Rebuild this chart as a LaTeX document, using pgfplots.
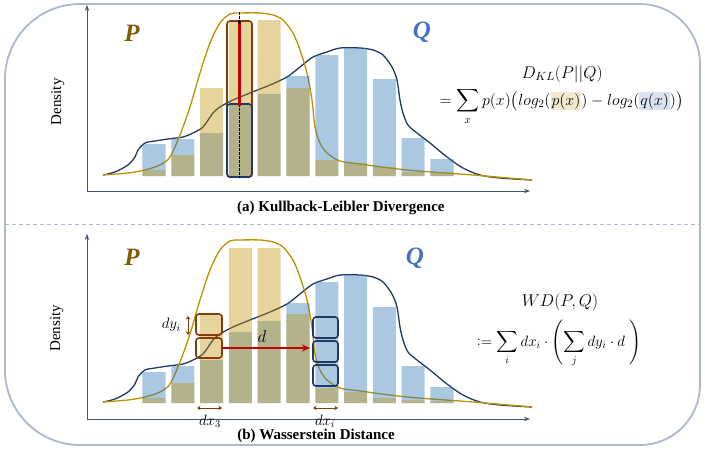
\documentclass[border=0pt]{standalone}
\usepackage{fix-cm}
\DeclareFontFamily{OMX}{cmex}{}
\DeclareFontShape{OMX}{cmex}{m}{n}{<->cmex10}{}
\usepackage{fontspec}
\setmainfont{Liberation Serif}
\usepackage{pgfplots}
\pgfplotsset{compat=1.18}
\usepackage{pgfplotstable}
\usetikzlibrary{arrows.meta}

\definecolor{pcol}{HTML}{BF9000}
\definecolor{qcol}{HTML}{2E75B6}
\definecolor{navyc}{HTML}{203864}
\definecolor{brownc}{HTML}{843C0C}
\definecolor{redc}{HTML}{C00000}
\definecolor{axisc}{HTML}{44546A}
\definecolor{framec}{HTML}{ACB9CA}
\definecolor{plab}{HTML}{7F6000}
\definecolor{qlab}{HTML}{4472C4}
\definecolor{hlp}{HTML}{F2E8CE}
\definecolor{hlq}{HTML}{D9E3F1}

\newcommand{\hlp}[1]{{\setlength{\fboxsep}{1pt}\colorbox{hlp}{#1}}}
\newcommand{\hlq}[1]{{\setlength{\fboxsep}{1pt}\colorbox{hlq}{#1}}}
\newcommand{\fs}[1]{\fontsize{#1}{#1}\selectfont}

% histogram bars: x, Q, P
\pgfplotstableread{
x  q   p
1  32  6
2  37  21
3  43  88
4  71  154
5  82  156
6  100 88
7  121 16
8  128 13
9  97  9
10 38  4
11 17  4
}\topbars
\pgfplotstableread{
x  q   p
1  31  5
2  37  20
3  43  88
4  71  155
5  82  155
6  100 89
7  121 15
8  128 11
9  96  5
10 37  3
11 16  2
}\botbars
% density curves
\pgfplotstableread{
x      y
-0.771 1
-0.354 4
0.097  11
0.340  19
0.444  26
0.688  33
1.035  35
1.486  37
2.007  39
2.354  43
2.701  49
3.049  63
3.292  69
3.743  76
4.333  83
5.028  91
5.618  99
6.069  109
6.521  119
7.007  124
7.458  128
8.153  128
8.604  126
8.951  121
9.264  109
9.438  96
9.542  76
9.646  63
9.819  51
10.132 43
10.583 33
11.174 19
11.729 8
12.319 1
13.014 -2
14.125 -4
}\qcurve
\pgfplotstableread{
x      y
-0.771 1
0.097  3
0.688  6
1.208  11
1.556  19
1.903  41
2.250  69
2.597  103
2.944  133
3.292  153
3.639  162
3.986  163
4.681  163
5.132  161
5.479  156
5.826  143
6.069  126
6.313  103
6.486  76
6.590  49
6.764  33
7.007  23
7.458  15
8.153  12
9.785  6
12.076 1
14.125 -4
}\pcurve

\pgfplotsset{
  panel/.style={
    scale only axis, width=443pt,
    xmin=-1.326, xmax=14.056,
    axis lines=left,
    axis line style={draw=axisc, line width=0.9pt, -{Stealth[length=6pt,width=4.5pt]}},
    xtick=\empty, ytick=\empty, clip=false,
    ylabel={Density},
    ylabel style={anchor=center, font=\fs{15}},
    xlabel style={anchor=center, font=\fs{15}\bfseries},
  },
  qbar/.style={ybar, bar width=0.8, bar shift=0pt, fill=qcol, fill opacity=0.4, draw=none},
  pbar/.style={ybar, bar width=0.8, bar shift=0pt, fill=pcol, fill opacity=0.39, draw=none},
  qline/.style={navyc, line width=1.3pt, smooth, tension=0.5, no markers},
  pline/.style={pcol, line width=1.3pt, smooth, tension=0.5, no markers},
}
\tikzset{
  bigP/.style={font=\fs{25}\bfseries\itshape, text=plab},
  bigQ/.style={font=\fs{25}\bfseries\itshape, text=qlab},
  dbl/.style={brownc, line width=1pt, {Stealth[length=3.5pt,width=4.5pt]}-{Stealth[length=3.5pt,width=4.5pt]}},
}

\begin{document}
\begin{tikzpicture}
\useasboundingbox (0pt,0pt) rectangle (705pt,-450pt);

% outer frame and separator
\draw[framec, line width=1.8pt] (80pt,-4pt) -- (640pt,-4pt)
  arc[start angle=90, end angle=0, radius=60pt] -- (700pt,-385pt)
  arc[start angle=0, end angle=-90, radius=60pt] -- (80pt,-445pt)
  arc[start angle=270, end angle=180, radius=75pt] -- (5pt,-79pt)
  arc[start angle=180, end angle=90, radius=75pt] -- cycle;
\draw[framec, line width=0.9pt, dash pattern=on 4pt off 3pt] (5pt,-224pt) -- (700pt,-224pt);

% (a) Kullback-Leibler
\begin{axis}[panel, at={(87pt,-191pt)}, anchor=south west,
  height=186pt, ymin=-15, ymax=171,
  ylabel style={at={(axis description cs:-0.066,0.48)}},
  xlabel={(a) Kullback-Leibler Divergence},
  xlabel style={at={(axis description cs:0.573,-0.091)}}]
\addplot[qline] table {\qcurve};
\addplot[pline] table {\pcurve};
\addplot[qbar] table[x=x, y=q] {\topbars};
\addplot[pbar] table[x=x, y=p] {\topbars};
\draw[brownc, line width=1.6pt, rounded corners=3pt] (3.535,-1) rectangle (4.403,155);
\draw[navyc, line width=1.6pt, rounded corners=3pt] (3.535,-1) rectangle (4.403,72);
\draw[black, line width=0.8pt, dash pattern=on 2.5pt off 1.5pt] (3.969,164) -- (3.969,-2);
\draw[redc, line width=2.4pt] (3.969,154) -- (3.969,70);
\fill[black] (3.969,154) circle (1.9pt);
\node[bigP] at (0.236,143) {P};
\node[bigQ] at (10.306,144) {Q};
\node[font=\fs{17}, anchor=base] at (15.17,98) {$D_{KL}(P||Q)$};
\node[font=\fs{16}, anchor=base] at (15.15,71)
  {$= \displaystyle\sum_x p(x)\bigg(log_2\big(\hlp{$p(x)$}\big) - log_2\big(\hlq{$q(x)$}\big)\bigg)$};
\end{axis}

% (b) Wasserstein
\begin{axis}[panel, at={(87pt,-419pt)}, anchor=south west,
  height=185pt, ymin=-16, ymax=169,
  ylabel style={at={(axis description cs:-0.068,0.49)}},
  xlabel={(b) Wasserstein Distance},
  xlabel style={at={(axis description cs:0.517,-0.092)}}]
\addplot[qline] table {\qcurve};
\addplot[pline] table {\pcurve};
\addplot[qbar] table[x=x, y=q] {\botbars};
\addplot[pbar] table[x=x, y=p] {\botbars};
\draw[brownc, line width=1.6pt, rounded corners=3pt] (2.458,68) rectangle (3.361,89);
\draw[brownc, line width=1.6pt, rounded corners=3pt] (2.458,45) rectangle (3.361,65);
\draw[navyc, line width=1.6pt, rounded corners=3pt] (6.521,65) rectangle (7.389,86);
\draw[navyc, line width=1.6pt, rounded corners=3pt] (6.521,41) rectangle (7.389,62);
\draw[navyc, line width=1.6pt, rounded corners=3pt] (6.521,17) rectangle (7.389,38);
\draw[redc, line width=2.2pt, -{Stealth[length=8pt,width=7pt]}] (3.361,55) -- (6.417,55);
\node[font=\fs{17}] at (4.75,66) {$d$};
\draw[dbl] (2.181,87) -- (2.181,68);
\node[font=\fs{15}, anchor=east] at (2.05,78) {$dy_i$};
\draw[dbl] (2.493,-5) -- (3.361,-5);
\node[font=\fs{15}] at (2.944,-18) {$dx_3$};
\draw[dbl] (6.521,-5) -- (7.389,-5);
\node[font=\fs{15}] at (6.94,-18) {$dx_i$};
\node[bigP] at (0.236,146) {P};
\node[bigQ] at (10.06,145) {Q};
\node[font=\fs{17}, anchor=base] at (15.1,97) {$WD(P,Q)$};
\node[font=\fs{15}, anchor=base] at (15.06,57)
  {$\mathrel{\mathop:}= \displaystyle\sum_i dx_i\cdot\left(\displaystyle\sum_j dy_i\cdot d\;\right)$};
\end{axis}
\end{tikzpicture}
\end{document}
